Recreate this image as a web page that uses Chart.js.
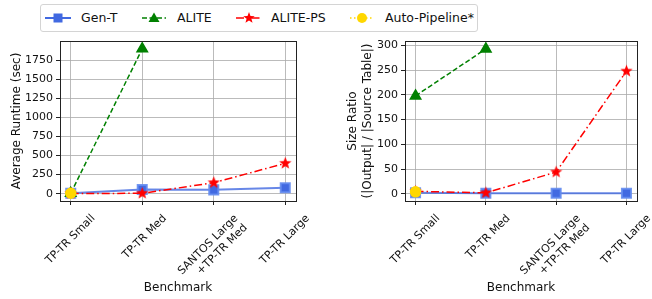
<!DOCTYPE html>
<html>
<head>
<meta charset="utf-8">
<script src="https://cdn.jsdelivr.net/npm/chart.js@4.4.0/dist/chart.umd.min.js"></script>
<style>
  body { margin: 0; background: #fff; font-family: "DejaVu Sans", sans-serif; }
  #wrap { position: relative; width: 652px; height: 299px; overflow: hidden; }
  #left { position: absolute; left: 0; top: 0; }
  #right { position: absolute; left: 330px; top: 0; }
  #legend { position: absolute; left: 40px; top: 4px; width: 436px; height: 26px;
            border: 1px solid #d4d4d4; border-radius: 3px; background: #fff; }
  .item { position: absolute; top: 0; height: 26px; }
  .item svg { position: absolute; top: 6px; }
  .item span { position: absolute; top: 5px; font-size: 12.5px; color: #111; white-space: nowrap; }
</style>
</head>
<body>
<div id="wrap">
  <canvas id="left" width="330" height="299"></canvas>
  <canvas id="right" width="322" height="299"></canvas>
  <div id="legend"></div>
</div>
<script>
var benchmarks = ['TP-TR Small', 'TP-TR Med', ['SANTOS Large', '+TP-TR Med'], 'TP-TR Large'];
var seriesNames = ['Gen-T', 'ALITE', 'ALITE-PS', 'Auto-Pipeline*'];

// average runtime (sec)
var runtimeGenT = [5, 55, 50, 78];
var runtimeAlite = [5, 1900, null, null];
var runtimeAlitePS = [2, 5, 144, 398];
var runtimeAuto = [6, null, null, null];
var runtimeTicks = [0, 250, 500, 750, 1000, 1250, 1500, 1750];

// size ratio
var ratioGenT = [2, 1, 1, 1];
var ratioAlite = [198, 293, null, null];
var ratioAlitePS = [5, 2, 44, 248];
var ratioAuto = [4, null, null, null];
var ratioTicks = [0, 50, 100, 150, 200, 250, 300];

var blue = '#4169e1', green = '#008000', red = '#ff0000', gold = '#ffd700';
var tickSize = 11;

function makeStar(color, r) {
  var c = document.createElement('canvas');
  c.width = c.height = Math.ceil(r * 2 + 2);
  var g = c.getContext('2d');
  var cx = c.width / 2, cy = c.height / 2;
  g.beginPath();
  for (var i = 0; i < 10; i++) {
    var rr = i % 2 ? r * 0.42 : r;
    var a = -Math.PI / 2 + i * Math.PI / 5;
    g.lineTo(cx + rr * Math.cos(a), cy + rr * Math.sin(a));
  }
  g.closePath();
  g.fillStyle = color;
  g.fill();
  return c;
}
var star = makeStar(red, 6.5);

function pts(arr) {
  return arr.map(function (v, i) { return { x: i, y: v }; });
}

function makeSets(genT, alite, ps, auto) {
  return [
    { label: seriesNames[0], data: pts(genT), borderColor: 'rgba(65,105,225,0.8)', backgroundColor: blue,
      pointBorderColor: 'rgba(100,140,240,0.9)', borderWidth: 2, pointStyle: 'rect', pointRadius: 6.4, order: 4 },
    { label: seriesNames[1], data: pts(alite), borderColor: green, backgroundColor: green, borderWidth: 1.5,
      borderDash: [5, 2.5], pointStyle: 'triangle', pointRadius: 6, order: 3 },
    { label: seriesNames[2], data: pts(ps), borderColor: red, backgroundColor: red, borderWidth: 1.5,
      borderDash: [8, 3, 1.5, 3], pointStyle: star, order: 2 },
    { label: seriesNames[3], data: pts(auto), borderColor: gold, backgroundColor: gold, borderWidth: 1.5,
      borderDash: [1.5, 2.5], pointStyle: 'circle', pointRadius: 5, order: 1 }
  ];
}

var measure = document.createElement('canvas').getContext('2d');
measure.font = tickSize + 'px "DejaVu Sans"';
function labelShift(i) {
  // centre the rotated label box on its tick, like matplotlib does
  var lab = benchmarks[i];
  var lines = Array.isArray(lab) ? lab : [lab];
  var w = Math.max.apply(null, lines.map(function (s) { return measure.measureText(s).width; }));
  return w * 0.3536 + (lines.length > 1 ? 1 : 3);
}

var frame = {
  id: 'frame',
  afterDraw: function (chart) {
    var a = chart.chartArea, c = chart.ctx;
    c.save();
    c.strokeStyle = '#222';
    c.lineWidth = 1;
    c.strokeRect(Math.round(a.left) + 0.5, Math.round(a.top) + 0.5, Math.round(a.right - a.left), Math.round(a.bottom - a.top));
    c.restore();
  }
};

function makeChart(id, sets, yTicks, yMin, yMax, yTitle, yWidth, titlePad, rightPad) {
  var gridOpts = { color: 'rgba(170,170,170,0.8)', borderDash: [1.5, 1.5], lineWidth: 1,
                   tickLength: 4, tickColor: '#222', tickBorderDash: [], tickWidth: 1 };
  return new Chart(document.getElementById(id), {
    type: 'line',
    data: { datasets: sets },
    options: {
      responsive: false,
      animation: false,
      layout: { padding: { top: 41, right: rightPad, left: 0, bottom: 0 } },
      plugins: { legend: { display: false }, tooltip: { enabled: false } },
      scales: {
        x: {
          type: 'linear', min: -0.15, max: 3.15,
          afterBuildTicks: function (s) { s.ticks = benchmarks.map(function (b, i) { return { value: i }; }); },
          afterFit: function (s) { s.height = 98; },
          grid: gridOpts,
          border: { display: false },
          ticks: {
            autoSkip: false, minRotation: 45, maxRotation: 45, padding: 7,
            color: '#111', font: { family: 'DejaVu Sans', size: tickSize },
            labelOffset: function (ctx) { return labelShift(ctx.index); },
            callback: function (v) { return benchmarks[v]; }
          },
          title: { display: true, text: 'Benchmark', color: '#111', font: { family: 'DejaVu Sans', size: 12 },
                   padding: { top: 0, bottom: 4 } }
        },
        y: {
          min: yMin, max: yMax,
          afterBuildTicks: function (s) { s.ticks = yTicks.map(function (v) { return { value: v }; }); },
          afterFit: function (s) { s.width = yWidth; },
          grid: gridOpts,
          border: { display: false },
          ticks: { padding: 3, color: '#111', font: { family: 'DejaVu Sans', size: tickSize },
                   callback: function (v) { return String(v); } },
          title: { display: true, text: yTitle, color: '#111', font: { family: 'DejaVu Sans', size: 12 },
                   padding: { top: titlePad, bottom: 0 } }
        }
      }
    },
    plugins: [frame]
  });
}

makeChart('left', makeSets(runtimeGenT, runtimeAlite, runtimeAlitePS, runtimeAuto),
          runtimeTicks, -96, 2003, 'Average Runtime (sec)', 60, 10, 34);
makeChart('right', makeSets(ratioGenT, ratioAlite, ratioAlitePS, ratioAuto),
          ratioTicks, -14.5, 309, ['Size Ratio', '(|Output| / |Source Table|)'], 75, 16, 15);

// legend
var icons = [
  '<line x1="0" y1="7" x2="26" y2="7" stroke="' + blue + '" stroke-width="2"/><rect x="8.5" y="2.5" width="9" height="9" fill="' + blue + '"/>',
  '<line x1="0" y1="7" x2="24" y2="7" stroke="' + green + '" stroke-width="1.5" stroke-dasharray="5 2.5"/><polygon points="12,1.5 17.5,11 6.5,11" fill="' + green + '"/>',
  '<line x1="0" y1="7" x2="26" y2="7" stroke="' + red + '" stroke-width="1.5" stroke-dasharray="8 3 1.5 3"/>',
  '<line x1="0" y1="7" x2="24" y2="7" stroke="' + gold + '" stroke-width="1.5" stroke-dasharray="1.5 2.5"/><circle cx="12" cy="7" r="5" fill="' + gold + '"/>'
];
var iconX = [4, 101, 195, 309];
var textX = [40, 136, 230, 344];
var legend = document.getElementById('legend');
seriesNames.forEach(function (name, i) {
  var d = document.createElement('div');
  d.className = 'item';
  d.style.left = '0px';
  d.innerHTML = '<svg width="26" height="14" style="left:' + iconX[i] + 'px">' + icons[i] + '</svg>' +
                '<span style="left:' + textX[i] + 'px">' + name + '</span>';
  legend.appendChild(d);
});
// star icon for ALITE-PS
var s = makeStar(red, 6);
s.style.position = 'absolute';
s.style.left = (iconX[2] + 13 - s.width / 2) + 'px';
s.style.top = (6 + 7 - s.height / 2) + 'px';
legend.appendChild(s);
</script>
</body>
</html>
